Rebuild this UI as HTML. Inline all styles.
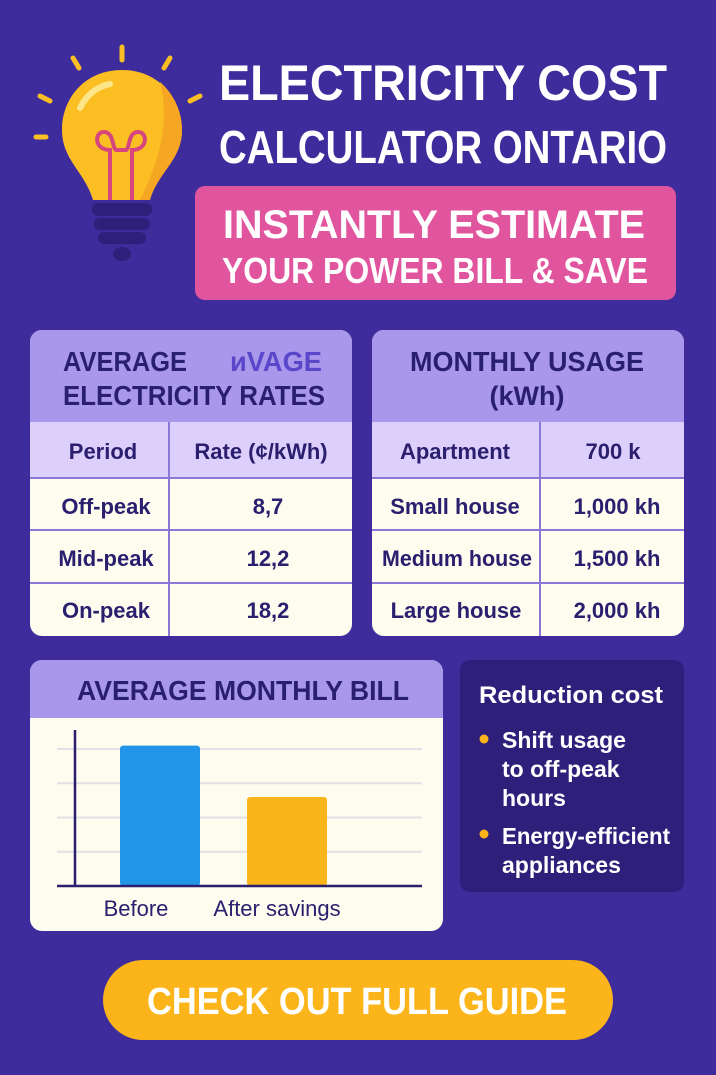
<!DOCTYPE html>
<html><head><meta charset="utf-8"><style>
html,body{margin:0;padding:0;background:#3f2c9c;}
svg{display:block;}
text{font-family:"Liberation Sans Narrow","Liberation Sans",sans-serif;font-weight:bold;}
text.n{font-weight:normal;}
</style></head><body>
<svg width="716" height="1075" viewBox="0 0 716 1075">
<rect x="0" y="0" width="716" height="1075" fill="#3f2c9c"/>
<g>
 <g stroke="#fbbf24" stroke-width="5" stroke-linecap="round">
  <line x1="122" y1="47" x2="122" y2="60"/><line x1="73" y1="58" x2="79" y2="68"/><line x1="170" y1="58" x2="164" y2="68"/>
  <line x1="40" y1="96" x2="50" y2="101"/><line x1="200" y1="96" x2="190" y2="101"/><line x1="36" y1="137" x2="46" y2="137"/>
 </g>
 <path d="M122 70 C85 70 62 98 62 130 C62 160 85 172 93 200 L150 200 C158 172 182 160 182 130 C182 98 158 70 122 70 Z" fill="#fbbf24"/>
 <path d="M150 200 C158 172 182 160 182 130 C182 110 172 92 160 82 C170 120 160 160 140 200 Z" fill="#f5a623"/>
 <path d="M80 108 C88 92 100 86 110 84" stroke="#fde68a" stroke-width="6" fill="none" stroke-linecap="round"/>
 <path d="M110 200 L110 150 C94 150 94 132 104 132 C114 132 112 148 116 150 L126 150 C130 148 128 132 138 132 C148 132 148 150 132 150 L132 200" stroke="#d6457e" stroke-width="4" fill="none"/>
 <rect x="92" y="203" width="60" height="13" rx="6" fill="#2e1f7a"/>
 <rect x="94" y="218" width="56" height="12" rx="6" fill="#2e1f7a"/>
 <rect x="98" y="232" width="48" height="12" rx="6" fill="#2e1f7a"/>
 <ellipse cx="122" cy="254" rx="9" ry="7" fill="#2e1f7a"/>
</g>
<text x="443" y="100" text-anchor="middle" font-size="50" fill="#ffffff" textLength="448" lengthAdjust="spacingAndGlyphs">ELECTRICITY COST</text>
<text x="443" y="163" text-anchor="middle" font-size="46" fill="#ffffff" textLength="448" lengthAdjust="spacingAndGlyphs">CALCULATOR ONTARIO</text>
<rect x="195" y="186" width="481" height="114" rx="10" fill="#e0559e"/>
<text x="434" y="238" text-anchor="middle" font-size="40" fill="#ffffff" textLength="422" lengthAdjust="spacingAndGlyphs">INSTANTLY ESTIMATE</text>
<text x="435" y="283" text-anchor="middle" font-size="36" fill="#ffffff" textLength="426" lengthAdjust="spacingAndGlyphs">YOUR POWER BILL &amp; SAVE</text>

<g>
 <clipPath id="cl"><rect x="30" y="330" width="322" height="306" rx="12"/></clipPath>
 <g clip-path="url(#cl)">
  <rect x="30" y="330" width="322" height="306" fill="#fdfcef"/>
  <rect x="30" y="330" width="322" height="92" fill="#a997ec"/>
  <rect x="30" y="422" width="322" height="56" fill="#dccffb"/>
 </g>
 <g stroke="#8a78d6" stroke-width="2">
  <line x1="30" y1="478" x2="352" y2="478"/><line x1="30" y1="530" x2="352" y2="530"/><line x1="30" y1="583" x2="352" y2="583"/>
  <line x1="169" y1="422" x2="169" y2="636"/>
 </g>
 <text x="63" y="371" font-size="28" fill="#2a1f6e" textLength="124" lengthAdjust="spacingAndGlyphs">AVERAGE</text>
 <text x="230" y="371" font-size="28" fill="#5a46c8" textLength="92" lengthAdjust="spacingAndGlyphs">ᴎVAGE</text>
 <text x="63" y="405" font-size="28" fill="#2a1f6e" textLength="262" lengthAdjust="spacingAndGlyphs">ELECTRICITY RATES</text>
 <g font-size="22" fill="#2a1f6e" text-anchor="middle">
  <text x="103" y="459">Period</text><text x="261" y="459">Rate (¢/kWh)</text>
  <text x="106" y="514">Off-peak</text><text x="268" y="514">8,7</text>
  <text x="106" y="566">Mid-peak</text><text x="268" y="566">12,2</text>
  <text x="106" y="618">On-peak</text><text x="268" y="618">18,2</text>
 </g>
</g>

<g>
 <clipPath id="cr"><rect x="372" y="330" width="312" height="306" rx="12"/></clipPath>
 <g clip-path="url(#cr)">
  <rect x="372" y="330" width="312" height="306" fill="#fdfcef"/>
  <rect x="372" y="330" width="312" height="92" fill="#a997ec"/>
  <rect x="372" y="422" width="312" height="56" fill="#dccffb"/>
 </g>
 <g stroke="#8a78d6" stroke-width="2">
  <line x1="372" y1="478" x2="684" y2="478"/><line x1="372" y1="530" x2="684" y2="530"/><line x1="372" y1="583" x2="684" y2="583"/>
  <line x1="540" y1="422" x2="540" y2="636"/>
 </g>
 <text x="527" y="371" text-anchor="middle" font-size="28" fill="#2a1f6e" textLength="234" lengthAdjust="spacingAndGlyphs">MONTHLY USAGE</text>
 <text x="527" y="405" text-anchor="middle" font-size="27" fill="#2a1f6e">(kWh)</text>
 <g font-size="22" fill="#2a1f6e" text-anchor="middle">
  <text x="455" y="459">Apartment</text><text x="613" y="459">700 k</text>
  <text x="455" y="514">Small house</text><text x="617" y="514">1,000 kh</text>
  <text x="457" y="566" textLength="150" lengthAdjust="spacingAndGlyphs">Medium house</text><text x="617" y="566">1,500 kh</text>
  <text x="456" y="618">Large house</text><text x="617" y="618">2,000 kh</text>
 </g>
</g>

<g>
 <clipPath id="cc"><rect x="30" y="660" width="413" height="271" rx="12"/></clipPath>
 <g clip-path="url(#cc)">
  <rect x="30" y="660" width="413" height="271" fill="#fdfcef"/>
  <rect x="30" y="660" width="413" height="58" fill="#a997ec"/>
 </g>
 <text x="243" y="700" text-anchor="middle" font-size="28" fill="#2a1f6e" textLength="332" lengthAdjust="spacingAndGlyphs">AVERAGE MONTHLY BILL</text>
 <g id="chart"></g>
</g>

<g>
 <rect x="460" y="660" width="224" height="232" rx="10" fill="#2e1f7a"/>
 <text x="479" y="703" font-size="24" fill="#ffffff" textLength="184" lengthAdjust="spacingAndGlyphs">Reduction cost</text>
 <circle cx="484" cy="739" r="4.5" fill="#fbb41a"/>
 <circle cx="484" cy="834" r="4.5" fill="#fbb41a"/>
 <g font-size="23" fill="#ffffff">
  <text x="502" y="748">Shift usage</text>
  <text x="502" y="777">to off-peak</text>
  <text x="502" y="806">hours</text>
  <text x="502" y="844" textLength="168" lengthAdjust="spacingAndGlyphs">Energy-efficient</text>
  <text x="502" y="873">appliances</text>
 </g>
</g>

<g>
 <rect x="103" y="960" width="510" height="80" rx="40" fill="#fbb41a"/>
 <text x="357" y="1014" text-anchor="middle" font-size="38" fill="#ffffff" textLength="420" lengthAdjust="spacingAndGlyphs">CHECK OUT FULL GUIDE</text>
</g>
</svg>
<script>
const categories = ["Before", "After savings"];
const billValues = [205, 130];
const gridTicks = [50, 100, 150, 200];
const barColors = ["#2196e8", "#fbb41a"];

const NS = "http://www.w3.org/2000/svg";
const g = document.getElementById("chart");
const baseY = 886, unitPx = 34.25 / 50;
const yScale = v => baseY - v * unitPx;
const xLeft = 57, xRight = 422, barW = 80;
const xCenter = i => 160 + i * 127;
function mk(tag, attrs) { const e = document.createElementNS(NS, tag); for (const k in attrs) e.setAttribute(k, attrs[k]); g.appendChild(e); return e; }
gridTicks.forEach(t => {
  const l = mk("line", {x1: xLeft, x2: xRight, y1: yScale(t), y2: yScale(t), stroke: "#e2e0e6", "stroke-width": 2});
  
  
});
categories.forEach((c, i) => {
  const r = mk("rect", {x: xCenter(i) - barW / 2, y: yScale(billValues[i]), width: barW, height: baseY - yScale(billValues[i]), rx: 3, fill: barColors[i]});
  
  
  const t = mk("text", {x: xCenter(i) - (i === 0 ? 24 : 10), y: 916, "text-anchor": "middle", "font-size": 22, fill: "#2a1f6e", class: "n"});
  t.textContent = c;
  
  
});
const ya = mk("line", {x1: 75, x2: 75, y1: 730, y2: baseY, stroke: "#2a1f6e", "stroke-width": 2.5});


const xa = mk("line", {x1: xLeft, x2: xRight, y1: baseY, y2: baseY, stroke: "#2a1f6e", "stroke-width": 2.5});


</script>
</body></html>
